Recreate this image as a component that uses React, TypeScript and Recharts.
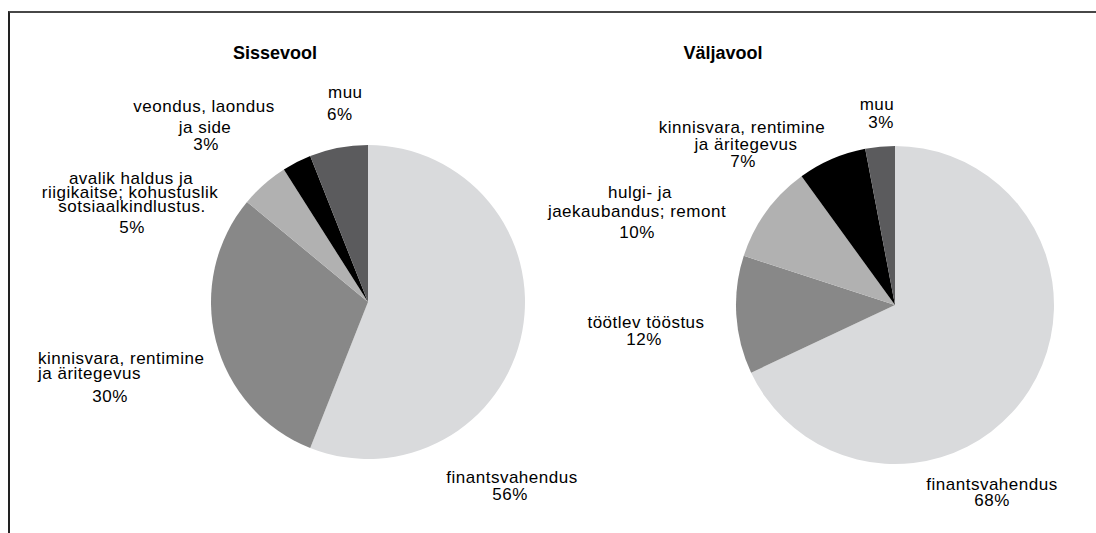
import React from 'react';
import { PieChart, Pie, Cell } from 'recharts';

// ---- data ----
const inflowTitle = 'Sissevool';
const outflowTitle = 'Väljavool';

const inflowCategories = [
  'finantsvahendus',
  'kinnisvara, rentimine ja äritegevus',
  'avalik haldus ja riigikaitse; kohustuslik sotsiaalkindlustus.',
  'veondus, laondus ja side',
  'muu',
];
const inflowValues = [56, 30, 5, 3, 6];
const inflowLabelLines = [
  ['finantsvahendus'],
  ['kinnisvara, rentimine', 'ja äritegevus'],
  ['avalik haldus ja', 'riigikaitse; kohustuslik', 'sotsiaalkindlustus.'],
  ['veondus, laondus', 'ja side'],
  ['muu'],
];

const outflowCategories = [
  'finantsvahendus',
  'töötlev tööstus',
  'hulgi- ja jaekaubandus; remont',
  'kinnisvara, rentimine ja äritegevus',
  'muu',
];
const outflowValues = [68, 12, 10, 7, 3];
const outflowLabelLines = [
  ['finantsvahendus'],
  ['töötlev tööstus'],
  ['hulgi- ja', 'jaekaubandus; remont'],
  ['kinnisvara, rentimine', 'ja äritegevus'],
  ['muu'],
];

// ---- styles / layout ----
const inflowColors = ['#d9dadc', '#888888', '#b1b1b1', '#000000', '#5b5b5d'];
const outflowColors = ['#d9dadc', '#888888', '#b1b1b1', '#000000', '#5b5b5d'];

type Anchor = 'start' | 'middle' | 'end';
type LineLayout = [number, number, Anchor];

// one entry per slice, one [x, baseline, anchor] per text line (name lines, then percent)
const inflowLabelLayout: LineLayout[][] = [
  [[512, 483, 'middle'], [510, 500, 'middle']],
  [[38, 364, 'start'], [38, 379, 'start'], [110, 402, 'middle']],
  [[131, 184, 'middle'], [130, 198, 'middle'], [132, 212, 'middle'], [132, 233, 'middle']],
  [[204, 112, 'middle'], [205, 133, 'middle'], [206, 150, 'middle']],
  [[328, 98, 'start'], [327, 120, 'start']],
];
const outflowLabelLayout: LineLayout[][] = [
  [[992, 490, 'middle'], [992, 506, 'middle']],
  [[646, 328, 'middle'], [644, 345, 'middle']],
  [[640, 198, 'middle'], [637, 217, 'middle'], [637, 238, 'middle']],
  [[742, 133, 'middle'], [746, 150, 'middle'], [743, 167, 'middle']],
  [[877, 110, 'middle'], [881, 128, 'middle']],
];

const FONT = '"Liberation Sans", Arial, Helvetica, sans-serif';
const W = 1096;
const H = 533;

const makeData = (cats: string[], vals: number[]) =>
  cats.map((name, i) => ({ name, value: vals[i] }));

const inflowData = makeData(inflowCategories, inflowValues);
const outflowData = makeData(outflowCategories, outflowValues);

const makeLabel =
  (lines: string[][], layout: LineLayout[][], values: number[]) =>
  (props: any) => {
    const i = props.index as number;
    const texts = [...lines[i], `${values[i]}%`];
    const lay = layout[i];
    return (
      <g key={`lbl-${i}`}>
        {texts.map((t, k) => (
          <text
            key={k}
            x={lay[k][0]}
            y={lay[k][1]}
            textAnchor={lay[k][2]}
            fill="#000"
            fontSize={17}
            letterSpacing={0.5}
            fontFamily={FONT}
          >
            {t}
          </text>
        ))}
      </g>
    );
  };

export default function App() {
  return (
    <div style={{ position: 'absolute', left: 0, top: 0, width: W, height: H, background: '#fff' }}>
      <div
        style={{
          position: 'absolute',
          left: 8,
          top: 11,
          width: W - 8,
          height: H - 11,
          borderTop: '2px solid #474747',
          borderLeft: '2px solid #222',
          boxSizing: 'border-box',
        }}
      />
      <div style={{ position: 'absolute', left: 0, top: 0 }}>
        <PieChart width={W} height={H} margin={{ top: 0, right: 0, bottom: 0, left: 0 }}>
          <text x={275} y={59} textAnchor="middle" fontSize={18} fontWeight="bold" fontFamily={FONT} fill="#000">
            {inflowTitle}
          </text>
          <text x={723} y={59} textAnchor="middle" fontSize={18} fontWeight="bold" fontFamily={FONT} fill="#000">
            {outflowTitle}
          </text>
          <Pie
            data={inflowData}
            dataKey="value"
            nameKey="name"
            cx={368}
            cy={302}
            outerRadius={157}
            startAngle={90}
            endAngle={-270}
            stroke="none"
            isAnimationActive={false}
            labelLine={false}
            label={makeLabel(inflowLabelLines, inflowLabelLayout, inflowValues)}
          >
            {inflowData.map((d, i) => (
              <Cell key={d.name} fill={inflowColors[i]} />
            ))}
          </Pie>
          <Pie
            data={outflowData}
            dataKey="value"
            nameKey="name"
            cx={895}
            cy={305}
            outerRadius={159}
            startAngle={90}
            endAngle={-270}
            stroke="none"
            isAnimationActive={false}
            labelLine={false}
            label={makeLabel(outflowLabelLines, outflowLabelLayout, outflowValues)}
          >
            {outflowData.map((d, i) => (
              <Cell key={d.name} fill={outflowColors[i]} />
            ))}
          </Pie>
        </PieChart>
      </div>
    </div>
  );
}
